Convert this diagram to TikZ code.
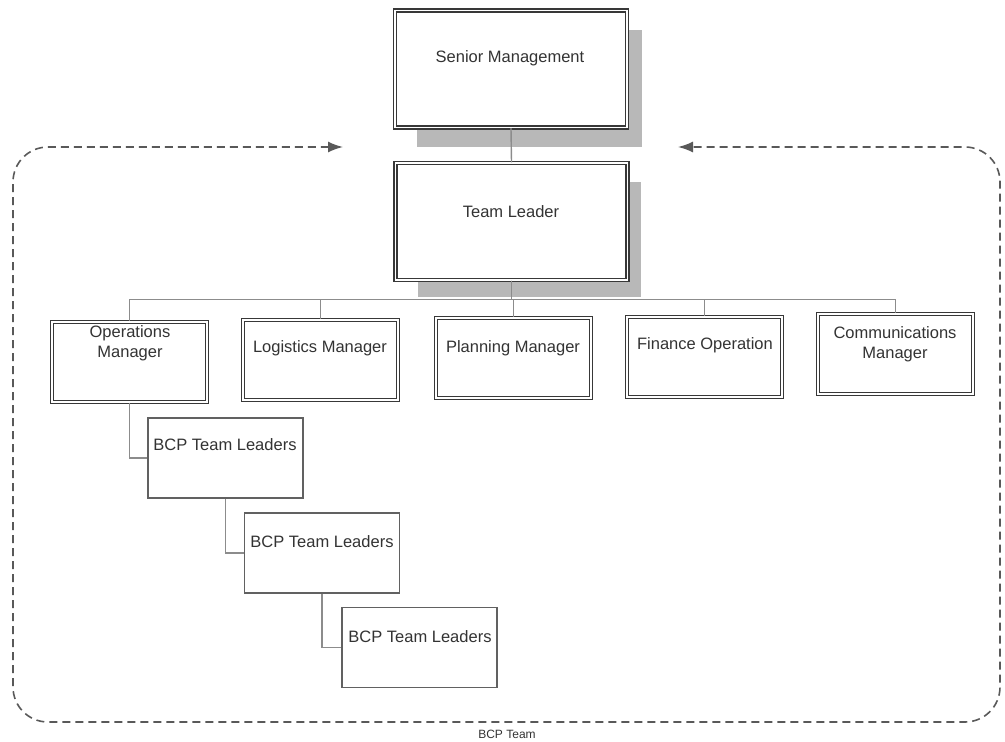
\documentclass[tikz,border=0pt]{standalone}
\usepackage{fontspec}
\setmainfont{Liberation Sans}
\usetikzlibrary{arrows.meta,backgrounds}
\begin{document}
\begin{tikzpicture}[x=1pt,y=-1pt,
  dbl/.style={draw=black!78, line width=1.3pt, double=white, double distance=1.6pt, fill=white, inner sep=0pt},
  topbox/.style={dbl, minimum width=232pt, minimum height=117pt},
  mgr/.style={dbl, minimum width=155pt, minimum height=80pt},
  bcp/.style={draw=black!62, line width=1.4pt, fill=white, minimum width=155pt, minimum height=80pt, inner sep=0pt},
  shadowbox/.style={fill=black!28, draw=none},
  conn/.style={draw=black!45, line width=1.4pt},
  lbl/.style={font=\fontsize{16.5}{20}\selectfont, align=center, inner sep=0pt, text=black!80},
  frame/.style={draw=black!65, line width=1.6pt, dash pattern=on 8pt off 5pt, rounded corners=35pt, {Latex[length=15pt,width=11pt]}-{Latex[length=15pt,width=11pt]}},
  small/.style={font=\fontsize{12}{14}\selectfont, inner sep=0pt, text=black!80}
]
\useasboundingbox (0,0) rectangle (1005,742);

% top boxes
\node[topbox] (sm) at (511,69) {};
\node[topbox] (tl) at (511.5,221.5) {};
\begin{scope}[on background layer]
  \fill[shadowbox] ([shift={(23,20)}]sm.north west) rectangle ([shift={(14,19)}]sm.south east);
  \fill[shadowbox] ([shift={(23,20)}]tl.north west) rectangle ([shift={(13,16)}]tl.south east);
\end{scope}

% managers
\node[mgr] (ops) at (129.5,362) {};
\node[mgr] (log) at (320.5,360) {};
\node[mgr] (pln) at (513.5,358) {};
\node[mgr] (fin) at (704.5,357) {};
\node[mgr] (com) at (895.5,354) {};

% BCP team leaders
\node[bcp] (b1) at (225.5,458) {};
\node[bcp] (b2) at (322,553) {};
\node[bcp] (b3) at (419.5,647.5) {};

% connectors
\draw[conn] (sm.south) -- (tl.north);
\foreach \m in {ops,log,pln,fin,com}{
  \draw[conn] (tl.south) -- ++(0,19) -| (\m.north);
}
\draw[conn] (ops.south) |- (b1.west);
\draw[conn] (b1.south) |- (b2.west);
\draw[conn] (b2.south) |- (b3.west);

% texts
\node[lbl] (tsm) at (510,58) {Senior Management};
\node[lbl] (ttl) at (511,212) {Team Leader};
\node[lbl] (tops) at (130,343) {Operations\\Manager};
\node[lbl] (tlog) at (320,348) {Logistics Manager};
\node[lbl] (tpln) at (513,348) {Planning Manager};
\node[lbl] (tfin) at (705,345) {Finance Operation};
\node[lbl] (tcom) at (895,344) {Communications\\Manager};
\node[lbl] (tb1) at (225,445) {BCP Team Leaders};
\node[lbl] (tb2) at (322,542) {BCP Team Leaders};
\node[lbl] (tb3) at (420,637) {BCP Team Leaders};

% dashed frame
\coordinate (fl) at (343,147);
\coordinate (fr) at (678,147);
\draw[frame] (fl) -- (13,147) -- (13,722) -- (1000,722) -- (1000,147) -- (fr);
\node[small] (bcpteam) at (507,734) {BCP Team};
\end{tikzpicture}
\end{document}
